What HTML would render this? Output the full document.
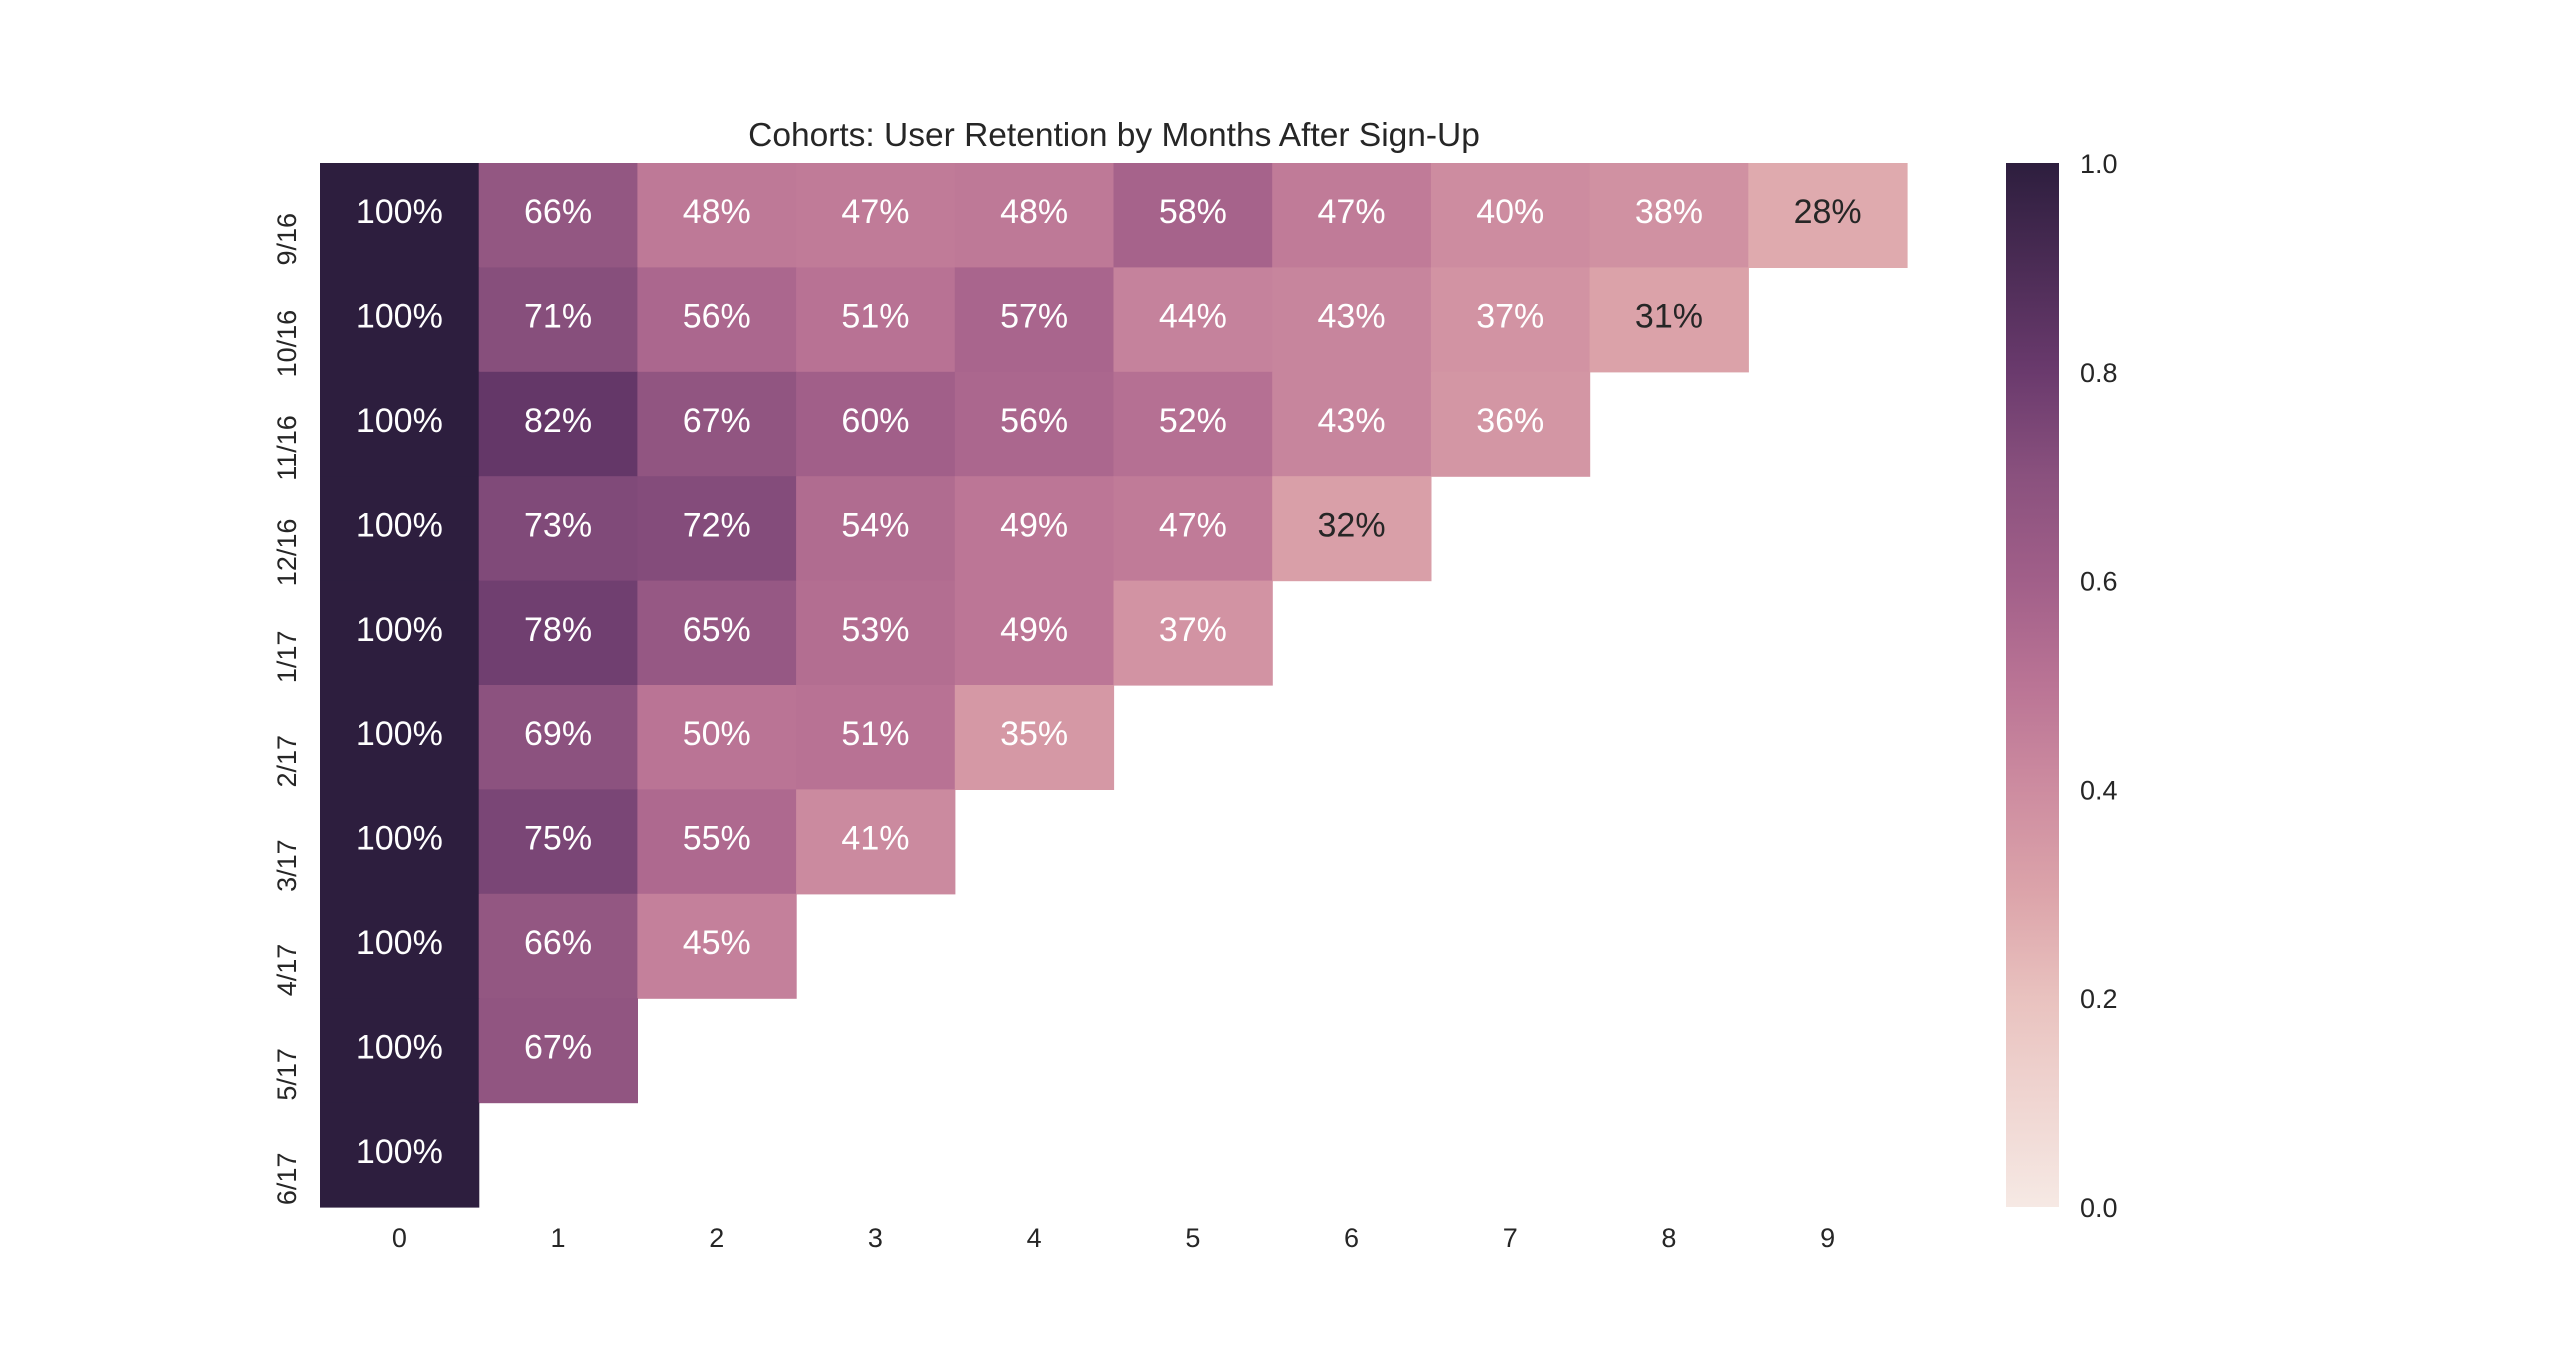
<!DOCTYPE html>
<html><head><meta charset="utf-8"><style>
html,body{margin:0;padding:0;background:#fff;}
svg{display:block;font-family:"Liberation Sans",Arial,sans-serif;}
</style></head><body>
<svg id="chart" width="2560" height="1356" viewBox="0 0 2560 1356">
<defs>
<linearGradient id="cbgrad" x1="0" y1="1" x2="0" y2="0">
<stop offset="0" stop-color="#f6e9e4"/>
<stop offset="0.2" stop-color="#e9c2bf"/>
<stop offset="0.3" stop-color="#dca4aa"/>
<stop offset="0.4" stop-color="#cd8ca0"/>
<stop offset="0.5" stop-color="#ba7495"/>
<stop offset="0.6" stop-color="#a15f89"/>
<stop offset="0.7" stop-color="#8a517e"/>
<stop offset="0.8" stop-color="#6a3a6d"/>
<stop offset="1" stop-color="#2d1e3e"/>
</linearGradient>
</defs>
<text x="1114" y="146" font-size="33.5" fill="#262626" text-anchor="middle">Cohorts: User Retention by Months After Sign-Up</text>
<g id="cells"></g>
<g id="ylabels"></g>
<g id="xlabels"></g>
<rect x="2006" y="163" width="53" height="1044" fill="url(#cbgrad)"/>
<g id="cbticks"></g>
</svg>
<script>
const cohorts = ["9/16","10/16","11/16","12/16","1/17","2/17","3/17","4/17","5/17","6/17"];
const months = [0,1,2,3,4,5,6,7,8,9];
const r0 = [1.00,0.66,0.48,0.47,0.48,0.58,0.47,0.40,0.38,0.28];
const r1 = [1.00,0.71,0.56,0.51,0.57,0.44,0.43,0.37,0.31];
const r2 = [1.00,0.82,0.67,0.60,0.56,0.52,0.43,0.36];
const r3 = [1.00,0.73,0.72,0.54,0.49,0.47,0.32];
const r4 = [1.00,0.78,0.65,0.53,0.49,0.37];
const r5 = [1.00,0.69,0.50,0.51,0.35];
const r6 = [1.00,0.75,0.55,0.41];
const r7 = [1.00,0.66,0.45];
const r8 = [1.00,0.67];
const r9 = [1.00];
const retention = [r0,r1,r2,r3,r4,r5,r6,r7,r8,r9];
const cbTicks = [0.0,0.2,0.4,0.6,0.8,1.0];

const NS="http://www.w3.org/2000/svg";
const X0=320, X1=1907, Y0=163, Y1=1207;
const cw=(X1-X0)/months.length, ch=(Y1-Y0)/cohorts.length;
const xPos=i=>X0+i*cw;
const yPos=j=>Y0+j*ch;
const cbY=v=>Y1-v*(Y1-Y0);
const stops=[[0,[246,233,228]],[0.2,[233,194,191]],[0.3,[220,164,170]],[0.4,[205,140,160]],[0.5,[186,116,149]],[0.6,[161,95,137]],[0.7,[138,81,126]],[0.8,[106,58,109]],[1,[45,30,62]]];
function color(v){
  for(let k=0;k<stops.length-1;k++){
    const a=stops[k],b=stops[k+1];
    if(v<=b[0]){const t=(v-a[0])/(b[0]-a[0]);
      const c=a[1].map((x,i)=>Math.round(x+(b[1][i]-x)*t));
      return `rgb(${c.join(",")})`;}
  }
  return "rgb(45,30,62)";
}
function mk(tag,attrs,parent,txt){const e=document.createElementNS(NS,tag);for(const k in attrs)e.setAttribute(k,attrs[k]);if(txt!==undefined)e.textContent=txt;parent.appendChild(e);return e;}
const cells=document.getElementById("cells");
retention.forEach((row,j)=>{
  row.forEach((v,i)=>{
    const r=mk("rect",{x:xPos(i),y:yPos(j),width:cw+0.6,height:ch+0.6,fill:color(v)},cells);
    
    
    const t=mk("text",{x:xPos(i)+cw/2,y:yPos(j)+ch/2+8,"font-size":34,"text-anchor":"middle",fill:v<0.34?"#262626":"#ffffff"},cells,Math.round(v*100)+"%");
    
    
  });
});
const yl=document.getElementById("ylabels");
cohorts.forEach((c,j)=>{
  const cy=yPos(j)+ch/2+24, x=296;
  const t=mk("text",{x:x,y:cy,"font-size":27,fill:"#262626","text-anchor":"middle",transform:`rotate(-90 ${x} ${cy})`},yl,c);
  
  
});
const xl=document.getElementById("xlabels");
months.forEach((m,i)=>{
  const t=mk("text",{x:xPos(i)+cw/2,y:1247,"font-size":27,fill:"#262626","text-anchor":"middle"},xl,String(m));
  
  
});
const cb=document.getElementById("cbticks");
cbTicks.forEach(v=>{
  const t=mk("text",{x:2080,y:cbY(v)+10,"font-size":27,fill:"#262626"},cb,v.toFixed(1));
  
  
});
</script>
</body></html>
